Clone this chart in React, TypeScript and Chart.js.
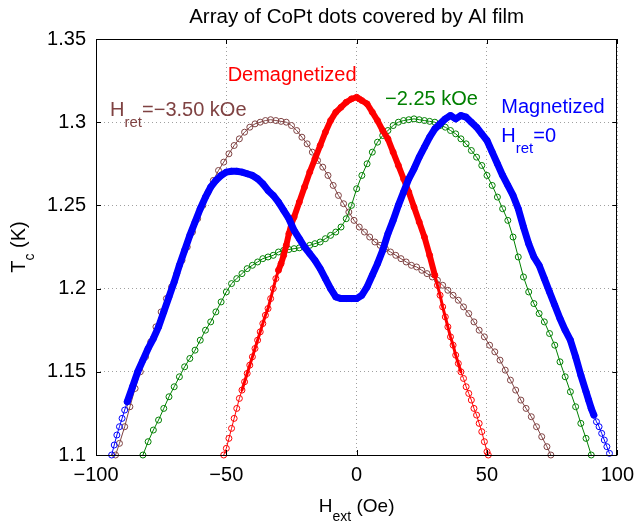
import React, { useEffect, useRef } from "react";
import { Chart, registerables } from "chart.js";

Chart.register(...registerables);

// ---------- text ----------
const TITLE = "Array of CoPt dots covered by Al film";
const X_TITLE = [{ t: "H" }, { t: "ext", sub: true }, { t: " (Oe)" }];
const Y_TITLE = [{ t: "T" }, { t: "c", sub: true }, { t: " (K)" }];

// ---------- axes ----------
const X_MIN = -100;
const X_MAX = 100;
const X_STEP = 50;
const Y_MIN = 1.1;
const Y_MAX = 1.35;
const Y_STEP = 0.05;

// ---------- series: Magnetized, H_ret = 0 (blue) ----------
const magH = [
  -94, -93, -92, -91, -90, -89, -88, -86, -84, -82, -80, -78, -76, -74, -72, -70, -68, -66, -64, -62,
  -60, -58, -56, -54, -52, -50, -48, -46, -44, -42, -40, -38, -36, -34, -32, -30, -28, -26, -24, -22,
  -20, -18, -16, -14, -12, -10, -8, -6, -4, -2, 0, 2, 4, 6, 8, 10, 12, 14, 16, 18,
  20, 22, 24, 26, 28, 30, 32, 34, 36, 38, 40, 42, 44, 46, 48, 50, 52, 54, 56, 58,
  60, 62, 64, 66, 68, 70, 72, 74, 76, 78, 80, 82, 84, 86, 88, 89, 90, 91, 92, 93,
  94, 95, 96, 97,
];
const magT = [
  1.1, 1.106, 1.112, 1.117, 1.122, 1.127, 1.132, 1.141, 1.15, 1.157, 1.164, 1.17, 1.177, 1.186, 1.195, 1.204, 1.214, 1.223, 1.232, 1.24,
  1.248, 1.255, 1.261, 1.265, 1.268, 1.27, 1.2705, 1.2705, 1.27, 1.269, 1.268, 1.266, 1.263, 1.259, 1.256, 1.252, 1.247, 1.242, 1.235, 1.23,
  1.225, 1.221, 1.217, 1.212, 1.206, 1.2, 1.195, 1.194, 1.194, 1.194, 1.194, 1.196, 1.201, 1.208, 1.215, 1.223, 1.233, 1.241, 1.25, 1.258,
  1.266, 1.272, 1.279, 1.285, 1.291, 1.296, 1.299, 1.302, 1.304, 1.302, 1.304, 1.303, 1.3, 1.297, 1.293, 1.289, 1.282, 1.275, 1.268, 1.262,
  1.256, 1.248, 1.237, 1.227, 1.219, 1.214, 1.206, 1.198, 1.19, 1.182, 1.175, 1.169, 1.159, 1.148, 1.138, 1.133, 1.128, 1.124, 1.12, 1.117,
  1.113, 1.109, 1.105, 1.101,
];

// ---------- series: Demagnetized (red) ----------
const demagH = [
  -51, -50, -49, -48, -47, -46, -45, -44, -43, -42, -41, -40, -39, -38, -37, -36, -35, -34, -33, -32,
  -31, -30, -29, -28, -27, -26, -25, -24, -22, -20, -18, -16, -14, -12, -10, -8, -6, -4, -2, 0,
  1, 2, 4, 6, 8, 10, 12, 14, 16, 18, 20, 22, 24, 26, 28, 30, 31, 32, 33, 34,
  35, 36, 37, 38, 39, 40, 41, 42, 43, 44, 45, 46, 47, 48, 49, 50, 50.5,
];
const demagT = [
  1.1, 1.104, 1.11, 1.116, 1.122, 1.128, 1.134, 1.139, 1.144, 1.149, 1.154, 1.159, 1.164, 1.169, 1.174, 1.179, 1.184, 1.188, 1.194, 1.2,
  1.206, 1.211, 1.215, 1.22, 1.226, 1.233, 1.239, 1.243, 1.252, 1.261, 1.27, 1.278, 1.286, 1.294, 1.301, 1.306, 1.309, 1.312, 1.314, 1.315,
  1.314, 1.313, 1.311, 1.306, 1.301, 1.295, 1.29, 1.282, 1.274, 1.266, 1.258, 1.249, 1.24, 1.231, 1.22, 1.208, 1.202, 1.196, 1.189, 1.183,
  1.177, 1.171, 1.166, 1.16, 1.155, 1.15, 1.146, 1.141, 1.137, 1.133, 1.128, 1.124, 1.119, 1.114, 1.108, 1.102, 1.1,
];

// ---------- series: H_ret = -2.25 kOe (green) ----------
const m225H = [
  -82, -80, -78, -76, -74, -72, -70, -68, -66, -64, -62, -60, -58, -56, -54, -52, -50, -48, -46, -44,
  -42, -40, -38, -36, -34, -32, -30, -28, -26, -24, -22, -20, -18, -16, -14, -12, -10, -8, -6, -4,
  -2, 0, 2, 4, 6, 8, 10, 12, 14, 16, 18, 20, 22, 24, 26, 28, 30, 32, 34, 36,
  38, 40, 42, 44, 46, 48, 50, 52, 54, 56, 58, 60, 62, 64, 66, 68, 70, 72, 74, 76,
  78, 80, 82, 84, 86, 88, 90,
];
const m225T = [
  1.1, 1.108, 1.115, 1.121, 1.128, 1.135, 1.141, 1.147, 1.153, 1.158, 1.163, 1.169, 1.175, 1.18, 1.186, 1.192, 1.198, 1.203, 1.206, 1.209,
  1.212, 1.214, 1.216, 1.218, 1.219, 1.22, 1.222, 1.223, 1.2235, 1.224, 1.2245, 1.225, 1.226, 1.227, 1.228, 1.23, 1.232, 1.234, 1.237, 1.242,
  1.25, 1.26, 1.268, 1.275, 1.282, 1.288, 1.292, 1.295, 1.298, 1.3, 1.301, 1.3015, 1.302, 1.3015, 1.301, 1.3005, 1.3, 1.298, 1.297, 1.295,
  1.293, 1.29, 1.287, 1.283, 1.279, 1.274, 1.268, 1.262, 1.255, 1.248, 1.241, 1.231, 1.219, 1.207, 1.198, 1.191, 1.185, 1.18, 1.173, 1.166,
  1.156, 1.147, 1.138, 1.129, 1.119, 1.11, 1.1,
];

// ---------- series: H_ret = -3.50 kOe (brown) ----------
const m350H = [
  -92.5, -91, -89, -87, -85, -83, -81, -79, -77, -75, -73, -71, -69, -67, -65, -63, -61, -59, -57, -55,
  -53, -51, -49, -47, -45, -43, -41, -39, -37, -35, -33, -31, -29, -27, -25, -23, -21, -19, -17, -15,
  -13, -11, -9, -7, -5, -3, -1, 1, 3, 5, 7, 9, 11, 13, 15, 17, 19, 21, 23, 25,
  27, 29, 31, 33, 35, 37, 39, 41, 43, 45, 47, 49, 51, 53, 55, 57, 59, 61, 63, 65,
  67, 69, 71, 73, 74.5,
];
const m350T = [
  1.1, 1.107, 1.117, 1.129, 1.14, 1.15, 1.159, 1.168, 1.177, 1.186, 1.194, 1.201, 1.209, 1.217, 1.225, 1.234, 1.242, 1.25, 1.258, 1.265,
  1.271, 1.276, 1.281, 1.286, 1.29, 1.294, 1.297, 1.299, 1.3, 1.301, 1.3015, 1.301, 1.3005, 1.3, 1.298, 1.295, 1.291, 1.287, 1.282, 1.277,
  1.273, 1.268, 1.262, 1.256, 1.251, 1.246, 1.241, 1.237, 1.234, 1.231, 1.228, 1.226, 1.224, 1.222, 1.22, 1.218, 1.216, 1.214, 1.213, 1.211,
  1.209, 1.207, 1.205, 1.202, 1.199, 1.196, 1.193, 1.189, 1.185, 1.18, 1.175, 1.171, 1.166, 1.162, 1.157, 1.151, 1.145, 1.139, 1.133, 1.128,
  1.123, 1.117, 1.111, 1.105, 1.1,
];

// ---------- annotation labels (text) ----------
const LABEL_DEMAG = [{ t: "Demagnetized" }];
const LABEL_M350 = [{ t: "H" }, { t: "ret", sub: true }, { t: "=\u22123.50 kOe" }];
const LABEL_M225 = [{ t: "\u22122.25 kOe" }];
const LABEL_MAG1 = [{ t: "Magnetized" }];
const LABEL_MAG2 = [{ t: "H" }, { t: "ret", sub: true }, { t: "=0" }];

// ---------- styles ----------
const FONT = '"Liberation Sans", Arial, Helvetica, sans-serif';
const BLUE = "#0000ff";
const RED = "#ff0000";
const GREEN = "#008000";
const BROWN = "#7f4242";

type Part = { t: string; sub?: boolean };

function zip(xs: number[], ys: number[]) {
  return xs.map((x, i) => ({ x, y: ys[i] }));
}

function drawRich(
  ctx: CanvasRenderingContext2D,
  parts: Part[],
  x: number,
  y: number,
  color: string,
  size: number,
  subSize: number,
  subDy: number
) {
  ctx.fillStyle = color;
  ctx.textAlign = "left";
  ctx.textBaseline = "alphabetic";
  let cx = x;
  for (const p of parts) {
    ctx.font = `${p.sub ? subSize : size}px ${FONT}`;
    ctx.fillText(p.t, cx, y + (p.sub ? subDy : 0));
    cx += ctx.measureText(p.t).width;
  }
}

function richWidth(ctx: CanvasRenderingContext2D, parts: Part[], size: number, subSize: number) {
  let w = 0;
  for (const p of parts) {
    ctx.font = `${p.sub ? subSize : size}px ${FONT}`;
    w += ctx.measureText(p.t).width;
  }
  return w;
}

// line width per segment: thick where the measured markers overlap into a solid band
function bandSegment(bands: [number, number, number][]) {
  return (c: any) => {
    const a = c.p0.parsed.x;
    const b = c.p1.parsed.x;
    for (const [lo, hi, w] of bands) {
      if (a >= lo && b <= hi) return w;
    }
    return 1;
  };
}

const annotations = [
  { parts: LABEL_DEMAG, x: -49.5, y: 1.3249, color: RED },
  { parts: LABEL_M350, x: -94.6, y: 1.3036, color: BROWN },
  { parts: LABEL_M225, x: 10.9, y: 1.3105, color: GREEN },
  { parts: LABEL_MAG1, x: 55.5, y: 1.3057, color: BLUE },
  { parts: LABEL_MAG2, x: 55.5, y: 1.2882, color: BLUE },
];

const framePlugin = {
  id: "frame",
  afterDraw(chart: any) {
    const ctx: CanvasRenderingContext2D = chart.ctx;
    const { left, right, top, bottom } = chart.chartArea;
    const xs = chart.scales.x;
    const ys = chart.scales.y;
    ctx.save();
    // box
    ctx.strokeStyle = "#000";
    ctx.lineWidth = 1;
    ctx.beginPath();
    ctx.rect(Math.round(left) + 0.5, Math.round(top) + 0.5, Math.round(right - left) - 1, Math.round(bottom - top));
    ctx.stroke();
    // inward ticks
    const tl = 5;
    ctx.beginPath();
    xs.ticks.forEach((t: any) => {
      const px = Math.round(xs.getPixelForValue(t.value)) + 0.5;
      ctx.moveTo(px, bottom);
      ctx.lineTo(px, bottom - tl);
      ctx.moveTo(px, top);
      ctx.lineTo(px, top + tl);
    });
    ys.ticks.forEach((t: any) => {
      const py = Math.round(ys.getPixelForValue(t.value)) + 0.5;
      ctx.moveTo(left, py);
      ctx.lineTo(left + tl, py);
      ctx.moveTo(right, py);
      ctx.lineTo(right - tl, py);
    });
    ctx.stroke();

    // title
    ctx.fillStyle = "#000";
    ctx.font = `20.5px ${FONT}`;
    ctx.textAlign = "center";
    ctx.textBaseline = "alphabetic";
    ctx.fillText(TITLE, (left + right) / 2, 23);

    // x title
    const xw = richWidth(ctx, X_TITLE, 19, 14);
    drawRich(ctx, X_TITLE, (left + right) / 2 - xw / 2, 512, "#000", 19, 14, 9);

    // y title
    const yw = richWidth(ctx, Y_TITLE, 20, 14);
    ctx.translate(25, (top + bottom) / 2);
    ctx.rotate(-Math.PI / 2);
    drawRich(ctx, Y_TITLE, -yw / 2, 0, "#000", 20, 14, 9);
    ctx.setTransform(1, 0, 0, 1, 0, 0);

    // annotations
    for (const a of annotations) {
      drawRich(ctx, a.parts, xs.getPixelForValue(a.x), ys.getPixelForValue(a.y), a.color, 20, 15, 11);
    }
    ctx.restore();
  },
};

function seriesStyle(color: string) {
  return {
    borderColor: color,
    pointBorderColor: color,
    pointBackgroundColor: "rgba(0,0,0,0)",
    pointRadius: 3,
    pointBorderWidth: 1,
    pointStyle: "circle",
    borderWidth: 1,
    tension: 0,
    fill: false,
    clip: false as any,
    borderJoinStyle: "round" as const,
    borderCapStyle: "round" as const,
  };
}

export default function App() {
  const ref = useRef<HTMLCanvasElement | null>(null);

  useEffect(() => {
    if (!ref.current) return;
    const chart = new Chart(ref.current, {
      type: "line",
      data: {
        datasets: [
          {
            label: "Magnetized",
            data: zip(magH, magT),
            ...seriesStyle(BLUE),
            segment: { borderWidth: bandSegment([[-88, 91, 7]]) },
          },
          {
            label: "Demagnetized",
            data: zip(demagH, demagT),
            ...seriesStyle(RED),
            segment: {
              borderWidth: bandSegment([
                [-30, 30, 6],
                [-44, -30, 3],
                [30, 40, 3],
              ]),
            },
          },
          {
            label: "-2.25 kOe",
            data: zip(m225H, m225T),
            ...seriesStyle(GREEN),
          },
          {
            label: "-3.50 kOe",
            data: zip(m350H, m350T),
            ...seriesStyle(BROWN),
          },
        ] as any,
      },
      options: {
        animation: false,
        responsive: false,
        maintainAspectRatio: false,
        layout: { padding: { left: 0, top: 39, right: 19, bottom: 0 } },
        plugins: {
          legend: { display: false },
          tooltip: { enabled: false },
          title: { display: false },
        },
        scales: {
          x: {
            type: "linear",
            min: X_MIN,
            max: X_MAX,
            ticks: {
              stepSize: X_STEP,
              color: "#000",
              font: { family: FONT, size: 20 },
              padding: 8,
              maxRotation: 0,
              callback: (v: any) => String(v).replace("-", "\u2212"),
            },
            grid: { color: "#a0a0a0", drawTicks: false, lineWidth: 1 },
            border: { display: false, dash: [1, 3] },
            afterFit: (s: any) => {
              s.height = 67;
            },
          },
          y: {
            type: "linear",
            min: Y_MIN,
            max: Y_MAX,
            ticks: {
              stepSize: Y_STEP,
              color: "#000",
              font: { family: FONT, size: 20 },
              padding: 10,
              callback: (v: any) => String(Number(Number(v).toFixed(2))),
            },
            grid: { color: "#a0a0a0", drawTicks: false, lineWidth: 1 },
            border: { display: false, dash: [1, 3] },
            afterFit: (s: any) => {
              s.width = 96;
            },
          },
        },
      } as any,
      plugins: [framePlugin],
    });
    return () => chart.destroy();
  }, []);

  return (
    <div style={{ position: "fixed", left: 0, top: 0, width: 642, height: 522, background: "#fff" }}>
      <canvas ref={ref} width={642} height={522} style={{ display: "block", width: 642, height: 522 }} />
    </div>
  );
}
